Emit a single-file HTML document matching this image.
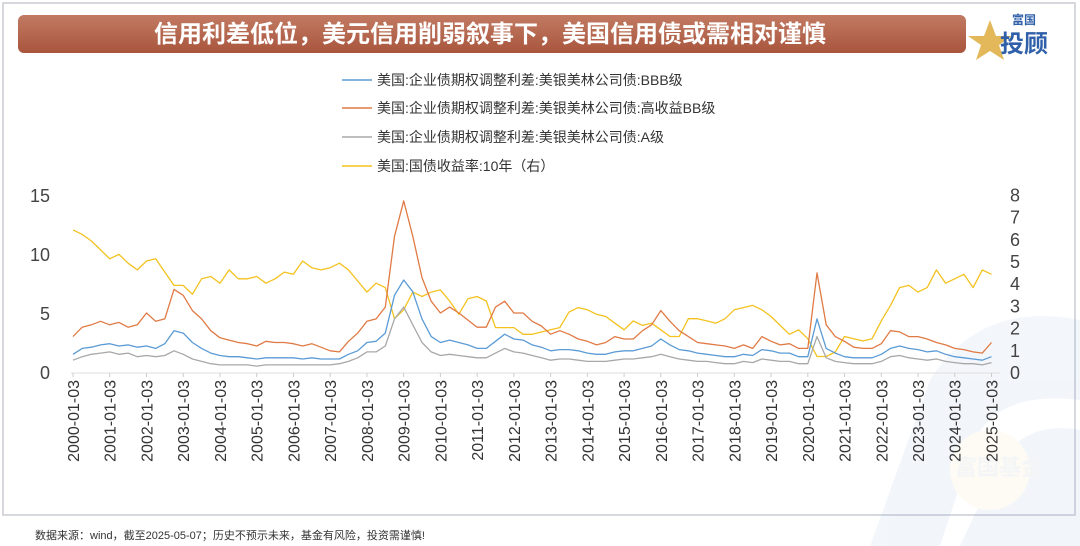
<!DOCTYPE html>
<html><head><meta charset="utf-8">
<style>
html,body{margin:0;padding:0;background:#fff;}
body{width:1080px;height:546px;position:relative;overflow:hidden;font-family:"Liberation Sans","Noto Sans CJK SC",sans-serif;}
</style></head>
<body>
<svg id="chart" width="1080" height="546" viewBox="0 0 1080 546" xmlns="http://www.w3.org/2000/svg" style="position:absolute;left:0;top:0">
  <defs>
    <linearGradient id="bannerGrad" x1="0" y1="0" x2="0" y2="1">
      <stop offset="0" stop-color="#c27a63"/>
      <stop offset="1" stop-color="#a9553d"/>
    </linearGradient>
  </defs>
  <rect x="3" y="3" width="1072" height="512" fill="none" stroke="#c8ccd4" stroke-width="1.5"/>
  <g opacity="0.08">
    <path d="M870 546 L930 380 Q980 300 1080 320 L1080 400 Q1000 390 975 440 L940 546 Z" fill="#6a9bd8"/>
    <path d="M960 546 L1000 460 Q1030 420 1080 430 L1080 546 Z" fill="#6a9bd8"/>
    <circle cx="990" cy="470" r="40" fill="#f2d27a"/>
    <text x="955" y="475" font-size="22" font-weight="bold" fill="#7e8aa0" font-family="Liberation Sans, Noto Sans CJK SC, sans-serif">富国基金</text>
  </g>
  <rect x="18" y="15" width="948" height="38" rx="6" fill="url(#bannerGrad)"/>
  <text x="490" y="42" text-anchor="middle" font-size="24" font-weight="bold" fill="#fff" font-family="Liberation Sans, Noto Sans CJK SC, sans-serif">信用利差低位，美元信用削弱叙事下，美国信用债或需相对谨慎</text>
  <g>
    <polygon points="990,20 996,36 1012,36 999,45 1004,60 990,51 976,60 981,45 968,36 984,36" fill="#e2b85a"/>
    <text x="1012" y="24" font-size="12" font-weight="bold" fill="#2f5fa8" font-family="Noto Sans CJK SC, sans-serif">富国</text>
    <text x="1000" y="52" font-size="24" font-weight="bold" fill="#2f5fa8" font-family="Noto Sans CJK SC, sans-serif">投顾</text>
  </g>
  <g id="legend"></g>
  <g id="axes"></g>
  <g id="series"></g>
  <text x="35" y="539" font-size="11" fill="#333" font-family="Liberation Sans, Noto Sans CJK SC, sans-serif">数据来源：wind，截至2025-05-07；历史不预示未来，基金有风险，投资需谨慎!</text>
</svg>
<script>
const startYear = 2000;
const stepYears = 0.25;
const seriesNames = ["美国:企业债期权调整利差:美银美林公司债:BBB级","美国:企业债期权调整利差:美银美林公司债:高收益BB级","美国:企业债期权调整利差:美银美林公司债:A级","美国:国债收益率:10年（右）"];
const leftTicks = [0,5,10,15];
const rightTicks = [0,1,2,3,4,5,6,7,8];
const xTickYears = [2000,2001,2002,2003,2004,2005,2006,2007,2008,2009,2010,2011,2012,2013,2014,2015,2016,2017,2018,2019,2020,2021,2022,2023,2024,2025];
const bbb = [1.5,2.0,2.1,2.3, 2.4,2.2,2.3,2.1, 2.2,2.0,2.4,3.5, 3.3,2.5,2.0,1.6, 1.4,1.3,1.3,1.2, 1.1,1.2,1.2,1.2, 1.2,1.1,1.2,1.1, 1.1,1.1,1.5,1.8, 2.5,2.6,3.3,6.5, 7.8,6.8,4.5,3.0, 2.5,2.7,2.5,2.3, 2.0,2.0,2.6,3.2, 2.8,2.7,2.3,2.1, 1.8,1.9,1.9,1.8, 1.6,1.5,1.5,1.7, 1.8,1.8,2.0,2.2, 2.8,2.3,1.9,1.8, 1.6,1.5,1.4,1.3, 1.3,1.5,1.4,1.9, 1.8,1.6,1.6,1.3, 1.3,4.5,2.0,1.6, 1.3,1.2,1.2,1.2, 1.5,2.0,2.2,2.0, 1.9,1.7,1.8,1.5, 1.3,1.2,1.1,1.0, 1.3];
const hyBB = [3.0,3.8,4.0,4.3, 4.0,4.2,3.8,4.0, 5.0,4.3,4.5,7.0, 6.5,5.2,4.5,3.5, 2.9,2.7,2.5,2.4, 2.2,2.6,2.5,2.5, 2.4,2.2,2.4,2.1, 1.8,1.7,2.6,3.3, 4.3,4.5,5.5,11.5, 14.5,11.5,8.0,6.0, 5.0,5.5,5.0,4.4, 3.8,3.8,5.5,6.0, 5.0,5.0,4.3,3.9, 3.2,3.5,3.2,2.8, 2.6,2.3,2.5,3.0, 2.8,2.8,3.5,4.0, 5.2,4.3,3.5,3.0, 2.5,2.4,2.3,2.2, 2.0,2.3,2.0,3.0, 2.6,2.3,2.4,2.0, 2.0,8.4,4.0,3.0, 2.6,2.1,2.0,2.0, 2.4,3.5,3.4,3.0, 3.0,2.8,2.5,2.3, 2.0,1.9,1.7,1.6, 2.5];
const aGrade = [1.0,1.3,1.5,1.6, 1.7,1.5,1.6,1.3, 1.4,1.3,1.4,1.8, 1.5,1.1,0.9,0.7, 0.6,0.6,0.6,0.6, 0.5,0.6,0.6,0.6, 0.6,0.6,0.6,0.6, 0.6,0.7,0.9,1.2, 1.7,1.7,2.2,4.5, 5.5,4.0,2.5,1.7, 1.4,1.5,1.4,1.3, 1.2,1.2,1.6,2.0, 1.7,1.6,1.4,1.2, 1.0,1.1,1.1,1.0, 0.9,0.9,0.9,1.0, 1.1,1.1,1.2,1.3, 1.5,1.3,1.1,1.0, 0.9,0.9,0.8,0.7, 0.7,0.9,0.8,1.1, 1.0,0.9,0.9,0.7, 0.7,3.0,1.2,0.9, 0.8,0.7,0.7,0.7, 0.9,1.3,1.4,1.2, 1.1,1.0,1.1,0.9, 0.8,0.7,0.7,0.6, 0.8];
const tsy10 = [6.4,6.2,5.9,5.5, 5.1,5.3,4.9,4.6, 5.0,5.1,4.5,3.9, 3.9,3.5,4.2,4.3, 4.0,4.6,4.2,4.2, 4.3,4.0,4.2,4.5, 4.4,5.0,4.7,4.6, 4.7,4.9,4.6,4.1, 3.6,4.0,3.8,2.4, 2.8,3.6,3.4,3.6, 3.7,3.2,2.6,3.3, 3.4,3.2,2.0,2.0, 2.0,1.7,1.7,1.8, 1.9,2.0,2.7,2.9, 2.8,2.6,2.5,2.2, 1.9,2.3,2.1,2.2, 1.9,1.6,1.6,2.4, 2.4,2.3,2.2,2.4, 2.8,2.9,3.0,2.8, 2.5,2.1,1.7,1.9, 1.5,0.7,0.7,0.9, 1.6,1.5,1.4,1.5, 2.3,3.0,3.8,3.9, 3.6,3.8,4.6,4.0, 4.2,4.4,3.8,4.6, 4.4];

const NS = "http://www.w3.org/2000/svg";
const X0 = 73, X1 = 997, Y0 = 372;
const endYear = 2025.15;
function xScale(t){ return X0 + (t - startYear) / (endYear - startYear) * (X1 - X0); }
function yLeft(v){ return Y0 - v * 11.8; }
function yRight(v){ return Y0 - v * 22.2; }
function mk(tag, attrs, parent){ const e=document.createElementNS(NS,tag); for(const k in attrs) e.setAttribute(k,attrs[k]); parent.appendChild(e); return e; }

const axes = document.getElementById('axes');
const base = mk('line',{x1:X0-2,x2:X1+3,y1:Y0+1,y2:Y0+1,stroke:'#dcdcdc','stroke-width':1},axes);


leftTicks.forEach(v=>{
  const t = mk('text',{x:50,y:yLeft(v)+7,'text-anchor':'end','font-size':18,fill:'#444'},axes);
  t.textContent = v;
  
  
});
rightTicks.forEach(v=>{
  const t = mk('text',{x:1015,y:yRight(v)+7,'text-anchor':'middle','font-size':18,fill:'#444'},axes);
  t.textContent = v;
  
  
});
xTickYears.forEach(yr=>{
  const x = xScale(yr);
  const tk = mk('line',{x1:x,x2:x,y1:Y0+1,y2:Y0+5,stroke:'#ccc'},axes);
  
  
  const t = mk('text',{x:0,y:0,'text-anchor':'end','font-size':16,fill:'#333',transform:`translate(${x+6},${Y0+8}) rotate(-90)`},axes);
  t.textContent = yr + '-01-03';
  
  
});

const seriesG = document.getElementById('series');
const defs = [
  {data: tsy10, color:'#f3c21f', y:yRight, name:'line-us-10y-yield'},
  {data: aGrade, color:'#a8a8a8', y:yLeft, name:'line-a-grade-spread'},
  {data: bbb, color:'#5b9bd5', y:yLeft, name:'line-bbb-spread'},
  {data: hyBB, color:'#e07a45', y:yLeft, name:'line-hy-bb-spread'}
];
defs.forEach(s=>{
  const pts = s.data.map((v,i)=> xScale(startYear + i*stepYears).toFixed(1)+','+s.y(v).toFixed(1)).join(' ');
  const p = mk('polyline',{points:pts,fill:'none',stroke:s.color,'stroke-width':1.3,'stroke-linejoin':'round'},seriesG);
  
  
});

const legend = document.getElementById('legend');
const legColors = ['#5b9bd5','#e07a45','#a8a8a8','#f3c21f'];
const legY = [80,108,137,166];
seriesNames.forEach((n,i)=>{
  const l = mk('line',{x1:342,x2:372,y1:legY[i],y2:legY[i],stroke:legColors[i],'stroke-width':1.5},legend);
  
  
  const t = mk('text',{x:377,y:legY[i]+5,'font-size':14,fill:'#333'},legend);
  t.textContent = n;
  
  
});
</script>
</body></html>
